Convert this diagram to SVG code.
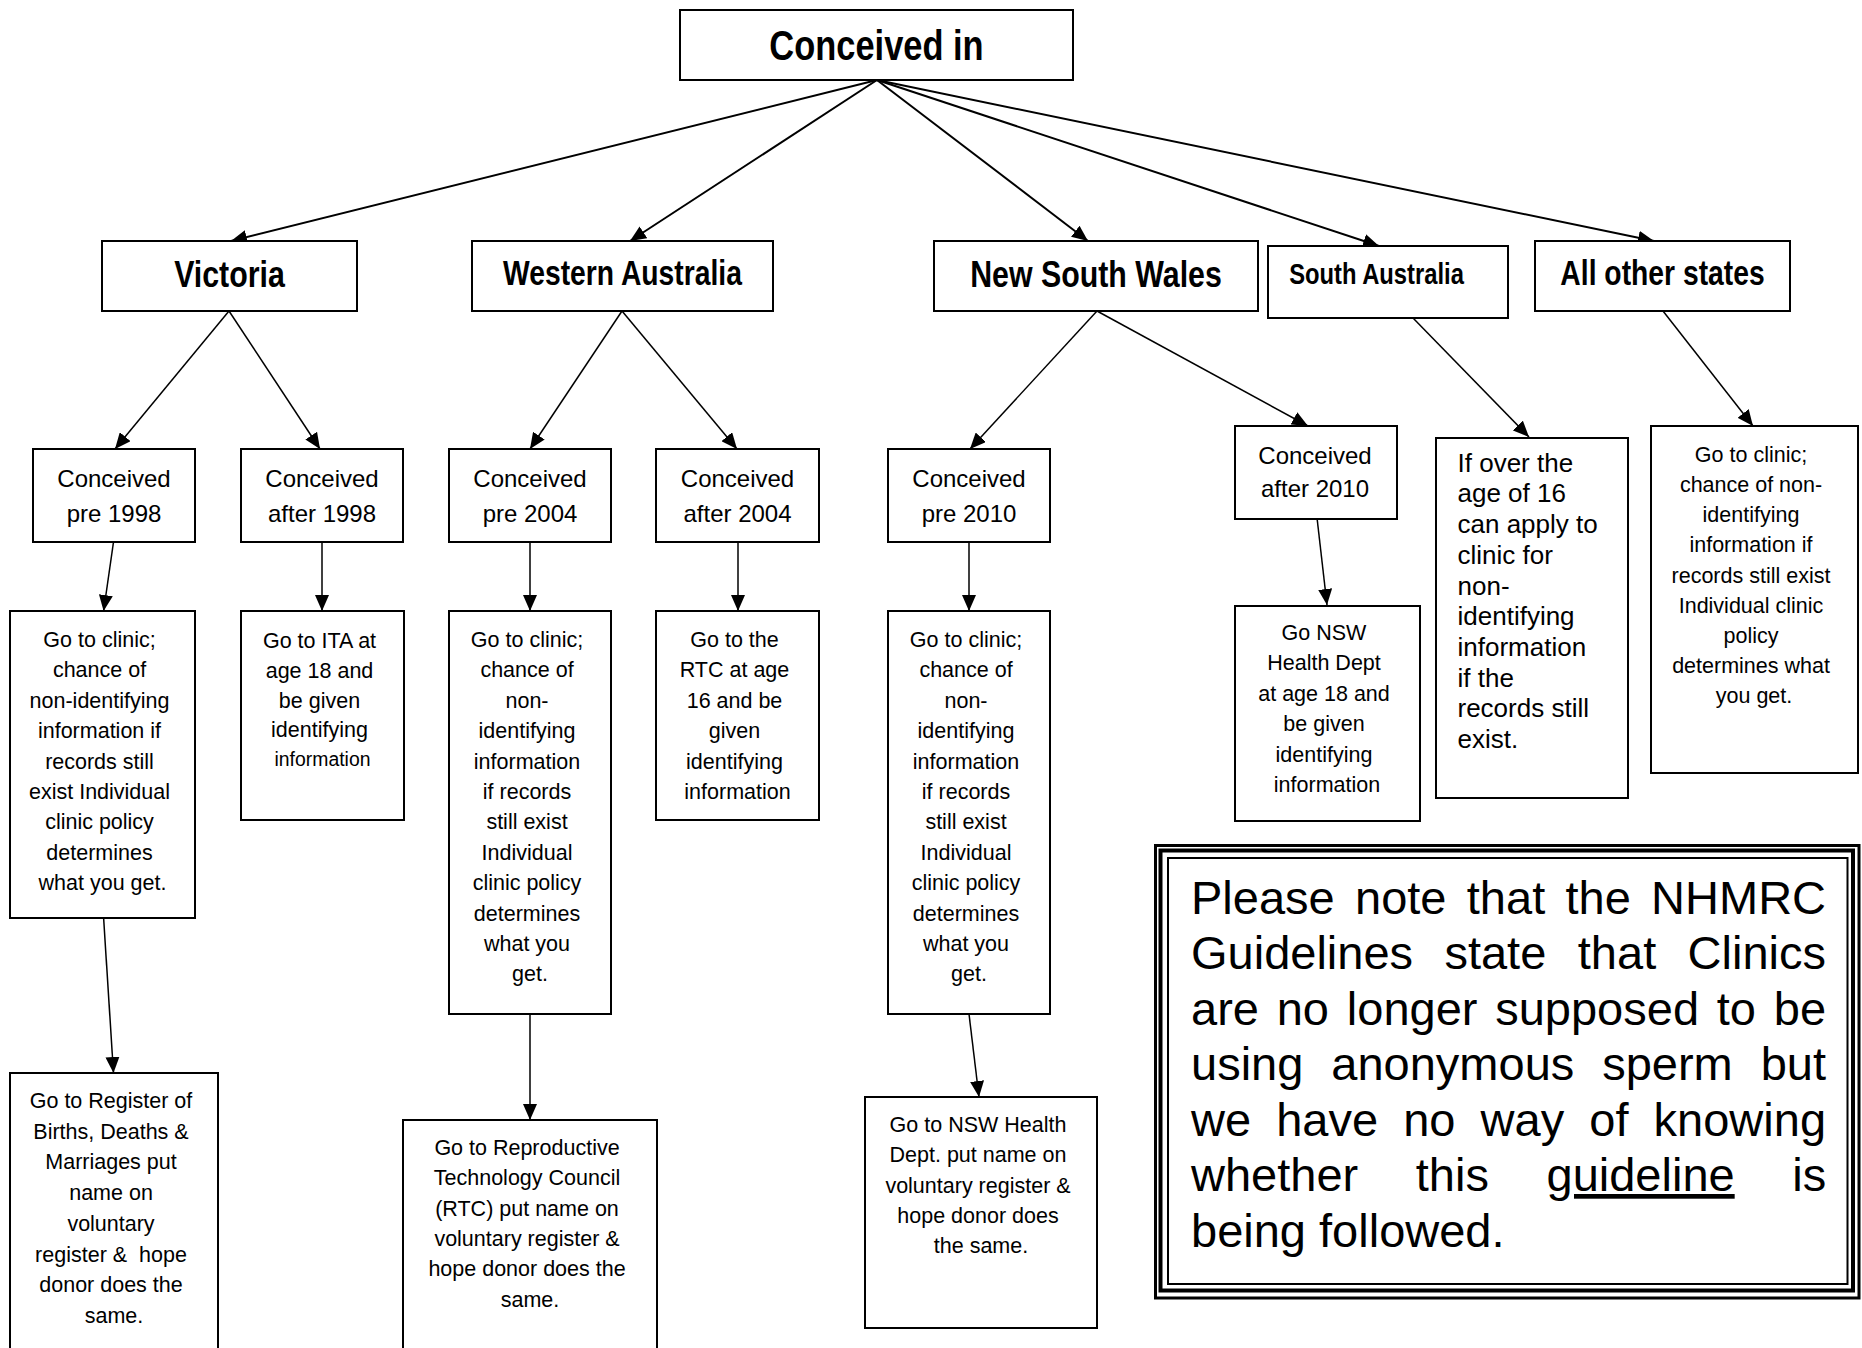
<svg xmlns="http://www.w3.org/2000/svg" width="1862" height="1348" viewBox="0 0 1862 1348">
<style>
.box{fill:#fff;stroke:#000;stroke-width:2}
.t{font-family:"Liberation Sans",Arial,sans-serif;fill:#000;text-anchor:middle;font-size:21.5px}
.l3{font-size:24px}
.h{font-family:"Liberation Sans",Arial,sans-serif;font-weight:bold;fill:#000;text-anchor:middle}
.lft{text-anchor:start;font-size:26px}
.note{font-family:"Liberation Sans",Arial,sans-serif;font-size:47px;fill:#000}
.c1 line{stroke:#000;stroke-width:2;marker-end:url(#ah)}
.c2 line{stroke:#000;stroke-width:1.5;marker-end:url(#ah)}
.nb{fill:none;stroke:#000}
</style>
<defs>
<marker id="ah" markerUnits="userSpaceOnUse" markerWidth="16" markerHeight="14" refX="16" refY="7" orient="auto">
<path d="M0,0 L16,7 L0,14 Z" fill="#000"/>
</marker>
</defs>
<rect width="1862" height="1348" fill="#fff"/>

<g id="connectors">
<g class="c1">
<line x1="877" y1="80" x2="231" y2="241"/>
<line x1="877" y1="80" x2="630" y2="241"/>
<line x1="877" y1="80" x2="1088" y2="241"/>
<line x1="877" y1="80" x2="1379" y2="246"/>
<line x1="877" y1="80" x2="1654" y2="241"/>
</g>
<g class="c2">
<line x1="229" y1="311" x2="115" y2="449"/>
<line x1="229" y1="311" x2="320" y2="449"/>
<line x1="622" y1="311" x2="530" y2="449"/>
<line x1="622" y1="311" x2="737" y2="449"/>
<line x1="1097" y1="311" x2="970" y2="449"/>
<line x1="1097" y1="311" x2="1308" y2="426"/>
<line x1="1413" y1="318" x2="1529" y2="437"/>
<line x1="1663" y1="311" x2="1753" y2="426"/>
<line x1="113.5" y1="542" x2="103.6" y2="611"/>
<line x1="322" y1="542" x2="322" y2="611"/>
<line x1="530" y1="542" x2="530" y2="611"/>
<line x1="738" y1="542" x2="738" y2="611"/>
<line x1="969" y1="542" x2="969" y2="611"/>
<line x1="1316" y1="509" x2="1327" y2="605"/>
<line x1="103.6" y1="918" x2="113.5" y2="1073"/>
<line x1="530" y1="1014" x2="530" y2="1120"/>
<line x1="969" y1="1014" x2="979" y2="1097"/>
</g>
</g>

<g id="conceived-in">
<rect class="box" x="680" y="10" width="393" height="70"/>
<text class="h" transform="translate(876.5,60) scale(0.82,1)" font-size="42">Conceived in</text>
</g>

<g id="victoria">
<rect class="box" x="102" y="241" width="255" height="70"/>
<text class="h" transform="translate(229.5,286.5) scale(0.82,1)" font-size="37">Victoria</text>
</g>
<g id="western-australia">
<rect class="box" x="472" y="241" width="301" height="70"/>
<text class="h" transform="translate(622.5,285) scale(0.82,1)" font-size="34.5">Western Australia</text>
</g>
<g id="new-south-wales">
<rect class="box" x="934" y="241" width="324" height="70"/>
<text class="h" transform="translate(1096,286.5) scale(0.82,1)" font-size="37">New South Wales</text>
</g>
<g id="south-australia">
<rect class="box" x="1268" y="246" width="240" height="72"/>
<text class="h" transform="translate(1376.5,283.5) scale(0.82,1)" font-size="29">South Australia</text>
</g>
<g id="all-other-states">
<rect class="box" x="1535" y="241" width="255" height="70"/>
<text class="h" transform="translate(1662.5,285) scale(0.82,1)" font-size="34.5">All other states</text>
</g>

<g id="vic-pre-1998">
<rect class="box" x="33" y="449" width="162" height="93"/>
<text class="t l3"><tspan x="114" y="487">Conceived</tspan><tspan x="114" y="521.5">pre 1998</tspan></text>
</g>
<g id="vic-after-1998">
<rect class="box" x="241" y="449" width="162" height="93"/>
<text class="t l3"><tspan x="322" y="487">Conceived</tspan><tspan x="322" y="521.5">after 1998</tspan></text>
</g>
<g id="wa-pre-2004">
<rect class="box" x="449" y="449" width="162" height="93"/>
<text class="t l3"><tspan x="530" y="487">Conceived</tspan><tspan x="530" y="521.5">pre 2004</tspan></text>
</g>
<g id="wa-after-2004">
<rect class="box" x="656" y="449" width="163" height="93"/>
<text class="t l3"><tspan x="737.5" y="487">Conceived</tspan><tspan x="737.5" y="521.5">after 2004</tspan></text>
</g>
<g id="nsw-pre-2010">
<rect class="box" x="888" y="449" width="162" height="93"/>
<text class="t l3"><tspan x="969" y="487">Conceived</tspan><tspan x="969" y="521.5">pre 2010</tspan></text>
</g>
<g id="nsw-after-2010">
<rect class="box" x="1235" y="426" width="162" height="93"/>
<text class="t l3"><tspan x="1315" y="463.5">Conceived</tspan><tspan x="1315" y="497">after 2010</tspan></text>
</g>

<g id="vic-clinic">
<rect class="box" x="10" y="611" width="185" height="307"/>
<text class="t">
<tspan x="102.5" y="647">Go to clinic;</tspan>
<tspan x="102.5" y="677.4">chance of</tspan>
<tspan x="102.5" y="707.8">non-identifying</tspan>
<tspan x="102.5" y="738.2">information if</tspan>
<tspan x="102.5" y="768.6">records still</tspan>
<tspan x="102.5" y="799">exist Individual</tspan>
<tspan x="102.5" y="829.4">clinic policy</tspan>
<tspan x="102.5" y="859.8">determines</tspan>
<tspan x="102.5" y="890.2">what you get.</tspan>
</text>
</g>
<g id="vic-ita">
<rect class="box" x="241" y="611" width="163" height="209"/>
<text class="t">
<tspan x="322.5" y="648">Go to ITA at</tspan>
<tspan x="322.5" y="678">age 18 and</tspan>
<tspan x="322.5" y="707.5">be given</tspan>
<tspan x="322.5" y="737">identifying</tspan>
<tspan x="322.5" y="766" font-size="19.4">information</tspan>
</text>
</g>
<g id="wa-clinic">
<rect class="box" x="449" y="611" width="162" height="403"/>
<text class="t">
<tspan x="530" y="647">Go to clinic;</tspan>
<tspan x="530" y="677.4">chance of</tspan>
<tspan x="530" y="707.8">non-</tspan>
<tspan x="530" y="738.2">identifying</tspan>
<tspan x="530" y="768.6">information</tspan>
<tspan x="530" y="799">if records</tspan>
<tspan x="530" y="829.4">still exist</tspan>
<tspan x="530" y="859.8">Individual</tspan>
<tspan x="530" y="890.2">clinic policy</tspan>
<tspan x="530" y="920.6">determines</tspan>
<tspan x="530" y="951">what you</tspan>
<tspan x="530" y="981.4">get.</tspan>
</text>
</g>
<g id="wa-rtc">
<rect class="box" x="656" y="611" width="163" height="209"/>
<text class="t">
<tspan x="737.5" y="647">Go to the</tspan>
<tspan x="737.5" y="677.4">RTC at age</tspan>
<tspan x="737.5" y="707.8">16 and be</tspan>
<tspan x="737.5" y="738.2">given</tspan>
<tspan x="737.5" y="768.6">identifying</tspan>
<tspan x="737.5" y="799">information</tspan>
</text>
</g>
<g id="nsw-clinic">
<rect class="box" x="888" y="611" width="162" height="403"/>
<text class="t">
<tspan x="969" y="647">Go to clinic;</tspan>
<tspan x="969" y="677.4">chance of</tspan>
<tspan x="969" y="707.8">non-</tspan>
<tspan x="969" y="738.2">identifying</tspan>
<tspan x="969" y="768.6">information</tspan>
<tspan x="969" y="799">if records</tspan>
<tspan x="969" y="829.4">still exist</tspan>
<tspan x="969" y="859.8">Individual</tspan>
<tspan x="969" y="890.2">clinic policy</tspan>
<tspan x="969" y="920.6">determines</tspan>
<tspan x="969" y="951">what you</tspan>
<tspan x="969" y="981.4">get.</tspan>
</text>
</g>
<g id="nsw-health-18">
<rect class="box" x="1235" y="606" width="185" height="215"/>
<text class="t">
<tspan x="1327" y="640">Go NSW</tspan>
<tspan x="1327" y="670">Health Dept</tspan>
<tspan x="1327" y="700.5">at age 18 and</tspan>
<tspan x="1327" y="731">be given</tspan>
<tspan x="1327" y="761.5">identifying</tspan>
<tspan x="1327" y="791.5">information</tspan>
</text>
</g>
<g id="sa-over-16">
<rect class="box" x="1436" y="438" width="192" height="360"/>
<text class="t lft">
<tspan x="1457.5" y="471.7">If over the</tspan>
<tspan x="1457.5" y="502.4">age of 16</tspan>
<tspan x="1457.5" y="533.1">can apply to</tspan>
<tspan x="1457.5" y="563.8">clinic for</tspan>
<tspan x="1457.5" y="594.5">non-</tspan>
<tspan x="1457.5" y="625.2">identifying</tspan>
<tspan x="1457.5" y="655.9">information</tspan>
<tspan x="1457.5" y="686.6">if the</tspan>
<tspan x="1457.5" y="717.3">records still</tspan>
<tspan x="1457.5" y="748">exist.</tspan>
</text>
</g>
<g id="other-clinic">
<rect class="box" x="1651" y="426" width="207" height="347"/>
<text class="t">
<tspan x="1754" y="461.7">Go to clinic;</tspan>
<tspan x="1754" y="491.9">chance of non-</tspan>
<tspan x="1754" y="522.1">identifying</tspan>
<tspan x="1754" y="552.3">information if</tspan>
<tspan x="1754" y="582.5">records still exist</tspan>
<tspan x="1754" y="612.7">Individual clinic</tspan>
<tspan x="1754" y="642.9">policy</tspan>
<tspan x="1754" y="673.1">determines what</tspan>
<tspan x="1754" y="703.3">you get.</tspan>
</text>
</g>

<g id="vic-register">
<rect class="box" x="10" y="1073" width="208" height="300"/>
<text class="t">
<tspan x="114" y="1108">Go to Register of</tspan>
<tspan x="114" y="1138.7">Births, Deaths &amp;</tspan>
<tspan x="114" y="1169.4">Marriages put</tspan>
<tspan x="114" y="1200.1">name on</tspan>
<tspan x="114" y="1230.8">voluntary</tspan>
<tspan x="114" y="1261.5">register &amp;&#160; hope</tspan>
<tspan x="114" y="1292.2">donor does the</tspan>
<tspan x="114" y="1322.9">same.</tspan>
</text>
</g>
<g id="wa-register">
<rect class="box" x="403" y="1120" width="254" height="260"/>
<text class="t">
<tspan x="530" y="1155">Go to Reproductive</tspan>
<tspan x="530" y="1185.3">Technology Council</tspan>
<tspan x="530" y="1215.6">(RTC) put name on</tspan>
<tspan x="530" y="1245.9">voluntary register &amp;</tspan>
<tspan x="530" y="1276.2">hope donor does the</tspan>
<tspan x="530" y="1306.5">same.</tspan>
</text>
</g>
<g id="nsw-register">
<rect class="box" x="865" y="1097" width="232" height="231"/>
<text class="t">
<tspan x="981" y="1131.7">Go to NSW Health</tspan>
<tspan x="981" y="1162.1">Dept. put name on</tspan>
<tspan x="981" y="1192.5">voluntary register &amp;</tspan>
<tspan x="981" y="1222.9">hope donor does</tspan>
<tspan x="981" y="1253.3">the same.</tspan>
</text>
</g>

<g id="note">
<rect class="nb" x="1155.5" y="845.5" width="703.5" height="452.5" stroke-width="3"/>
<rect class="nb" x="1160.5" y="850.5" width="692.5" height="440" stroke-width="4"/>
<rect class="nb" x="1168" y="858" width="679.5" height="426" stroke-width="2"/>
<text class="note">
<tspan x="1191" y="913.5">Please</tspan><tspan x="1355" y="913.5">note</tspan><tspan x="1466.8" y="913.5">that</tspan><tspan x="1565.5" y="913.5">the</tspan><tspan x="1651.1" y="913.5">NHMRC</tspan>
<tspan x="1191" y="969">Guidelines</tspan><tspan x="1444.4" y="969">state</tspan><tspan x="1577.8" y="969">that</tspan><tspan x="1687.6" y="969">Clinics</tspan>
<tspan x="1191" y="1024.5">are</tspan><tspan x="1276.7" y="1024.5">no</tspan><tspan x="1346.8" y="1024.5">longer</tspan><tspan x="1495.2" y="1024.5">supposed</tspan><tspan x="1716.8" y="1024.5">to</tspan><tspan x="1773.8" y="1024.5">be</tspan>
<tspan x="1191" y="1080">using</tspan><tspan x="1331.3" y="1080">anonymous</tspan><tspan x="1602.2" y="1080">sperm</tspan><tspan x="1760.7" y="1080">but</tspan>
<tspan x="1191" y="1135.5">we</tspan><tspan x="1276.2" y="1135.5">have</tspan><tspan x="1403.2" y="1135.5">no</tspan><tspan x="1480.6" y="1135.5">way</tspan><tspan x="1589.3" y="1135.5">of</tspan><tspan x="1653.6" y="1135.5">knowing</tspan>
<tspan x="1191" y="1191">whether</tspan><tspan x="1415.8" y="1191">this</tspan><tspan x="1546.5" y="1191" text-decoration="underline">guideline</tspan><tspan x="1792.2" y="1191">is</tspan>
<tspan x="1191" y="1246.5">being followed.</tspan>
</text>
</g>
</svg>
